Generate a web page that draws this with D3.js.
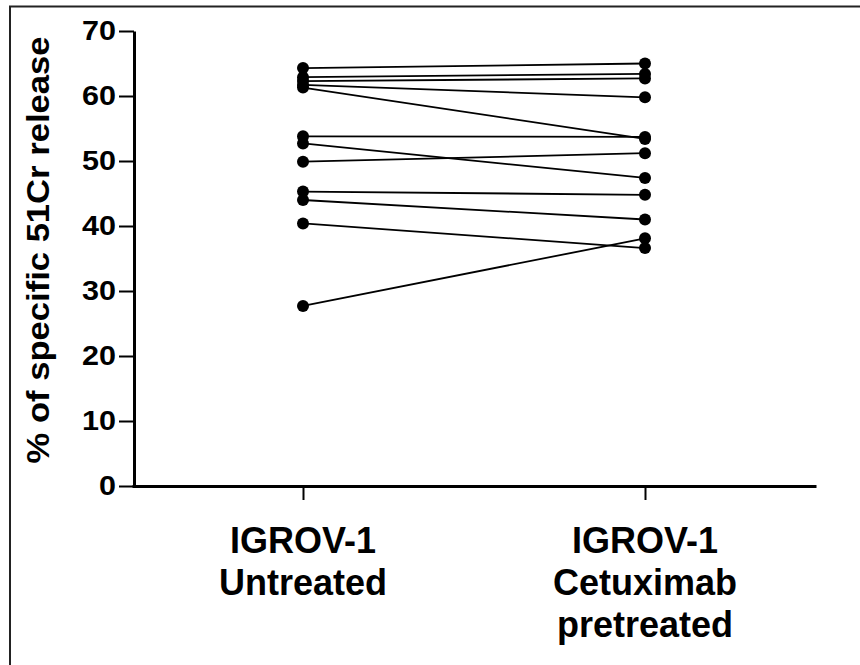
<!DOCTYPE html>
<html>
<head>
<meta charset="utf-8">
<script src="https://cdn.jsdelivr.net/npm/d3@7"></script>
<style>
  html, body { margin: 0; padding: 0; background: #fff; }
  svg { display: block; font-family: "Liberation Sans", Arial, sans-serif; }
</style>
</head>
<body>
<script>
// groups on the x axis
const groups = ["Untreated", "Cetuximab pretreated"];
const groupLabels = [["IGROV-1", "Untreated"], ["IGROV-1", "Cetuximab", "pretreated"]];

// paired % specific 51Cr release, one entry per experiment
const untreated = [64.3, 62.9, 62.3, 61.7, 61.3, 53.8, 52.7, 49.9, 45.3, 44.0, 40.4, 27.7];
const pretreated = [65.0, 63.4, 62.7, 59.8, 53.4, 53.7, 47.4, 51.2, 44.8, 41.0, 36.6, 38.1];

const yTicks = [0, 10, 20, 30, 40, 50, 60, 70];
const yLabel = "% of specific 51Cr release";

const width = 860, height = 665;
const marginLeft = 134, marginTop = 31, plotBottom = 486, axisRight = 816;

const pairs = untreated.map((u, i) => [u, pretreated[i]]);

const x = d3.scalePoint(groups, [marginLeft - 2, axisRight]).padding(0.5);
const y = d3.scaleLinear([0, 70], [plotBottom, marginTop]);

const svg = d3.select("body").append("svg")
    .attr("width", width)
    .attr("height", height)
    .attr("viewBox", [0, 0, width, height]);

svg.append("rect")
    .attr("width", width).attr("height", height).attr("fill", "#fff");

// outer frame (runs off the right and bottom of the picture)
svg.append("rect")
    .attr("x", 10).attr("y", 6.5)
    .attr("width", 900).attr("height", 700)
    .attr("fill", "none")
    .attr("stroke", "#222")
    .attr("stroke-width", 2);

// paired lines
const line = d3.line()
    .x((d, i) => x(groups[i]))
    .y(d => y(d));

svg.append("g")
    .attr("fill", "none")
    .attr("stroke", "#000")
    .attr("stroke-width", 1.8)
  .selectAll("path")
  .data(pairs)
  .join("path")
    .attr("d", line);

svg.append("g")
    .attr("fill", "#000")
  .selectAll("circle")
  .data(pairs.flatMap(p => p.map((v, i) => ({g: groups[i], v}))))
  .join("circle")
    .attr("cx", d => x(d.g))
    .attr("cy", d => y(d.v))
    .attr("r", 6);

// y axis
svg.append("g")
    .attr("transform", `translate(${marginLeft},0)`)
    .call(d3.axisLeft(y).tickValues(yTicks).tickSize(15).tickPadding(3).tickSizeOuter(0))
    .call(g => g.select(".domain").attr("stroke-width", 3))
    .call(g => g.selectAll(".tick line").attr("stroke-width", 2))
    .call(g => g.selectAll(".tick text")
        .attr("font-size", 27)
        .attr("font-weight", "bold")
        .attr("fill", "#000")
        .attr("textLength", d => d === 0 ? 17 : 34)
        .attr("lengthAdjust", "spacingAndGlyphs"));

// x axis
svg.append("g")
    .attr("transform", `translate(0,${plotBottom})`)
    .call(d3.axisBottom(x).tickSize(14).tickSizeOuter(0).tickFormat(""))
    .call(g => g.select(".domain").attr("stroke-width", 3))
    .call(g => g.selectAll(".tick line").attr("stroke-width", 2));

svg.append("g")
  .selectAll("text")
  .data(groups)
  .join("text")
    .attr("x", d => x(d))
    .attr("y", 553)
    .attr("text-anchor", "middle")
    .attr("font-size", 36)
    .attr("font-weight", "bold")
    .attr("fill", "#000")
  .selectAll("tspan")
  .data((d, i) => groupLabels[i])
  .join("tspan")
    .attr("x", function() { return this.parentNode.getAttribute("x"); })
    .attr("dy", (d, i) => i === 0 ? 0 : 42)
    .text(d => d);

// y title
svg.append("text")
    .attr("transform", `translate(49,250) rotate(-90)`)
    .attr("text-anchor", "middle")
    .attr("font-size", 31)
    .attr("font-weight", "bold")
    .attr("fill", "#000")
    .attr("textLength", 427)
    .attr("lengthAdjust", "spacingAndGlyphs")
    .text(yLabel);
</script>
</body>
</html>
